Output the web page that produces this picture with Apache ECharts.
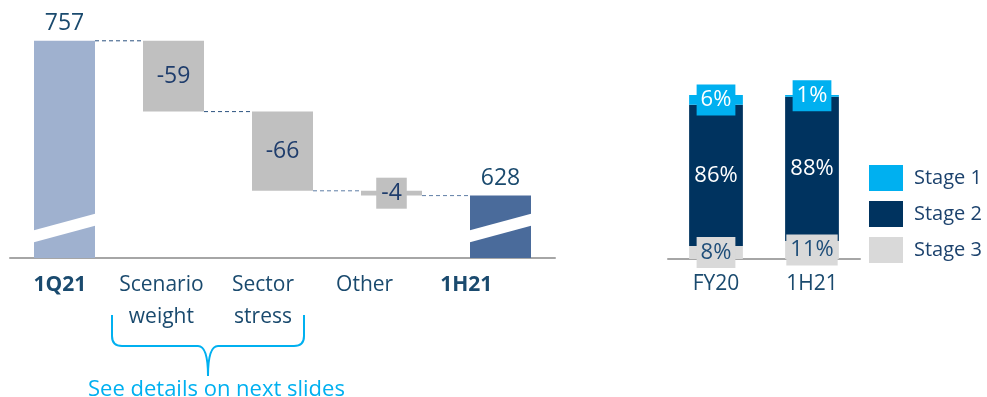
<!DOCTYPE html>
<html>
<head>
<meta charset="utf-8">
<script src="https://cdn.jsdelivr.net/npm/echarts@6/dist/echarts.min.js"></script>
<style>
  html, body { margin: 0; padding: 0; background: #ffffff; }
  #chart { width: 987px; height: 397px; }
</style>
</head>
<body>
<div id="chart"></div>
<script>
// Loss allowance bridge, 1Q21 -> 1H21
const bridgeCategories = ['1Q21', 'Scenario\nweight', 'Sector\nstress', 'Other', '1H21'];
const openingValue = 757;
const movements = [-59, -66, -4];
const closingValue = 628;

// Stage mix of the allowance
const stageCategories = ['FY20', '1H21'];
const stage1Share = [6, 1];
const stage2Share = [86, 88];
const stage3Share = [8, 11];
const stageNames = ['Stage 1', 'Stage 2', 'Stage 3'];

const FONT = '"Open Sans", "Noto Sans", sans-serif';
const NAVY_TEXT = '#1a4a6e';
const LABEL_NAVY = '#1f3d6c';
const LEGEND_TEXT = '#1c426d';
const C_OPEN = '#9fb1cf';
const C_CLOSE = '#4a6b9b';
const C_MOVE = '#c0c0c0';
const C_S1 = '#00b0f0';
const C_S2 = '#00335f';
const C_S3 = '#d9d9d9';
const BAR_RATIO = 0.56;
const BRIDGE_BAR = 61;

// running level after each bar (used for floating bars and connectors)
const levels = [openingValue];
movements.forEach(m => levels.push(levels[levels.length - 1] + m));

const baseValues = [0];
const visibleValues = [openingValue];
movements.forEach((m, i) => {
  baseValues.push(Math.min(levels[i], levels[i + 1]));
  visibleValues.push(Math.abs(m));
});
baseValues.push(0);
visibleValues.push(closingValue);

const bridgeLabels = [String(openingValue)]
  .concat(movements.map(m => (m > 0 ? '+' : '') + m))
  .concat([String(closingValue)]);

const visibleData = visibleValues.map((v, i) => {
  const item = { value: v };
  if (i === 0) {
    item.itemStyle = { color: C_OPEN };
    item.label = { position: 'top', distance: 6, color: NAVY_TEXT };
  } else if (i === visibleValues.length - 1) {
    item.itemStyle = { color: C_CLOSE };
    item.label = { position: 'top', distance: 6, color: NAVY_TEXT };
  } else {
    item.itemStyle = { color: C_MOVE };
    item.label = { position: 'inside', color: LABEL_NAVY };
    if (Math.abs(movements[i - 1]) < 10) {
      item.label.backgroundColor = C_MOVE;
      item.label.padding = [4, 5, 4, 5];
    }
  }
  return item;
});

// connector segments between consecutive bars
const connectorData = levels.map((v, i) => [i, v]);

// axis-break markers on the two total bars (value units of the band edges)
const breakData = [[0, 0], [bridgeCategories.length - 1, 0]];
const BREAK_LEFT = [589, 599];
const BREAK_RIGHT = [603, 613];

const chart = echarts.init(document.getElementById('chart'), null, { renderer: 'canvas' });

// curly brace under the two scenario categories
const BRACE = { stroke: C_S1, lineWidth: 2, fill: null };
const braceParts = [
  { type: 'line', shape: { x1: 112, y1: 315, x2: 112, y2: 336 } },
  { type: 'bezierCurve', shape: { x1: 112, y1: 336, cpx1: 112, cpy1: 346, x2: 122, y2: 346 } },
  { type: 'line', shape: { x1: 122, y1: 346, x2: 198, y2: 346 } },
  { type: 'bezierCurve', shape: { x1: 198, y1: 346, cpx1: 208, cpy1: 346, x2: 208, y2: 376 } },
  { type: 'bezierCurve', shape: { x1: 208, y1: 376, cpx1: 208, cpy1: 346, x2: 218, y2: 346 } },
  { type: 'line', shape: { x1: 218, y1: 346, x2: 294, y2: 346 } },
  { type: 'bezierCurve', shape: { x1: 294, y1: 346, cpx1: 304, cpy1: 346, x2: 304, y2: 336 } },
  { type: 'line', shape: { x1: 304, y1: 336, x2: 304, y2: 315 } }
].map(p => Object.assign(p, { silent: true, style: BRACE }));

const option = {
  animation: false,
  backgroundColor: '#ffffff',
  textStyle: { fontFamily: FONT },
  grid: [
    { left: 10, top: 6, width: 545, height: 252, containLabel: false },
    { left: 668, top: 95, width: 192, height: 164, containLabel: false },
    // narrower band used only to place the bridge category names
    { left: 9, top: 6, width: 508, height: 252, containLabel: false }
  ],
  xAxis: [
    {
      type: 'category', gridIndex: 0, data: bridgeCategories,
      axisLine: { lineStyle: { color: '#a6a6a6', width: 2 } },
      axisTick: { show: false },
      axisLabel: { show: false }
    },
    {
      type: 'category', gridIndex: 1, data: stageCategories,
      axisLine: { lineStyle: { color: '#a6a6a6', width: 2 } },
      axisTick: { show: false },
      axisLabel: { interval: 0, margin: 11, fontSize: 21, lineHeight: 28, color: NAVY_TEXT, fontFamily: FONT }
    },
    {
      type: 'category', gridIndex: 2, data: bridgeCategories,
      axisLine: { show: false },
      axisTick: { show: false },
      axisLabel: {
        interval: 0, margin: 11, fontSize: 21, lineHeight: 32, color: NAVY_TEXT, fontFamily: FONT,
        formatter: (v, i) => (i === 0 || i === bridgeCategories.length - 1) ? '{b|' + v + '}' : v,
        rich: { b: { fontWeight: 'bold', fontSize: 21, lineHeight: 32, color: NAVY_TEXT, fontFamily: FONT } }
      }
    }
  ],
  yAxis: [
    { type: 'value', gridIndex: 0, min: 576, max: 786, show: false },
    { type: 'value', gridIndex: 1, min: 0, max: 100, show: false },
    { type: 'value', gridIndex: 2, min: 0, max: 1, show: false }
  ],
  legend: {
    data: stageNames,
    orient: 'vertical',
    left: 869, top: 165,
    padding: 0,
    itemWidth: 34, itemHeight: 26, itemGap: 10,
    icon: 'rect',
    selectedMode: false,
    textStyle: { fontSize: 20, color: LEGEND_TEXT, fontFamily: FONT, padding: [0, 0, 0, 6] }
  },
  series: [
    {
      type: 'bar', xAxisIndex: 0, yAxisIndex: 0, stack: 'bridge',
      data: baseValues, barWidth: BRIDGE_BAR,
      itemStyle: { color: 'rgba(0,0,0,0)' }, silent: true
    },
    {
      type: 'bar', xAxisIndex: 0, yAxisIndex: 0, stack: 'bridge',
      data: visibleData, barWidth: BRIDGE_BAR,
      label: {
        show: true, fontSize: 23, fontFamily: FONT,
        formatter: p => bridgeLabels[p.dataIndex]
      }
    },
    {
      type: 'custom', xAxisIndex: 0, yAxisIndex: 0, z: 1,
      data: connectorData,
      renderItem: (params, api) => {
        const i = api.value(0);
        const v = api.value(1);
        if (i >= bridgeCategories.length - 1) return null;
        const half = BRIDGE_BAR / 2;
        const a = api.coord([i, v]);
        const b = api.coord([i + 1, v]);
        return {
          type: 'line',
          shape: { x1: a[0] + half, y1: a[1], x2: b[0] - half, y2: b[1] },
          style: { stroke: i < 2 ? '#2c527f' : '#5f7ea6', lineWidth: 1, lineDash: [4, 3] }
        };
      }
    },
    {
      type: 'custom', xAxisIndex: 0, yAxisIndex: 0, z: 5,
      data: breakData,
      renderItem: (params, api) => {
        const i = api.value(0);
        const half = BRIDGE_BAR / 2 + 1;
        const x = api.coord([i, BREAK_LEFT[0]])[0];
        const p1 = [x - half, api.coord([i, BREAK_LEFT[0]])[1]];
        const p2 = [x - half, api.coord([i, BREAK_LEFT[1]])[1]];
        const p3 = [x + half, api.coord([i, BREAK_RIGHT[1]])[1]];
        const p4 = [x + half, api.coord([i, BREAK_RIGHT[0]])[1]];
        return { type: 'polygon', shape: { points: [p1, p2, p3, p4] }, style: { fill: '#ffffff' } };
      }
    },
    {
      name: 'Stage 3', type: 'bar', xAxisIndex: 1, yAxisIndex: 1, stack: 'stage',
      data: stage3Share, barWidth: (BAR_RATIO * 100) + '%',
      itemStyle: { color: C_S3 },
      label: {
        show: true, position: 'inside', formatter: '{c}%', fontSize: 22, fontFamily: FONT,
        color: '#1f4e79', backgroundColor: C_S3, padding: [5, 4, 4, 4]
      }
    },
    {
      name: 'Stage 2', type: 'bar', xAxisIndex: 1, yAxisIndex: 1, stack: 'stage',
      data: stage2Share, barWidth: (BAR_RATIO * 100) + '%',
      itemStyle: { color: C_S2 },
      label: { show: true, position: 'inside', formatter: '{c}%', fontSize: 22, fontFamily: FONT, color: '#ffffff' }
    },
    {
      name: 'Stage 1', type: 'bar', xAxisIndex: 1, yAxisIndex: 1, stack: 'stage',
      data: stage1Share, barWidth: (BAR_RATIO * 100) + '%',
      itemStyle: { color: C_S1 },
      label: {
        show: true, position: 'inside', formatter: '{c}%', fontSize: 22, fontFamily: FONT,
        color: '#ffffff', backgroundColor: C_S1, padding: [5, 4, 4, 4]
      }
    }
  ],
  graphic: braceParts.concat([
    {
      type: 'text', left: 88, top: 379, silent: true,
      style: { text: 'See details on next slides', fontSize: 22, fontFamily: FONT, fill: C_S1 }
    }
  ])
};

chart.setOption(option);
</script>
</body>
</html>
